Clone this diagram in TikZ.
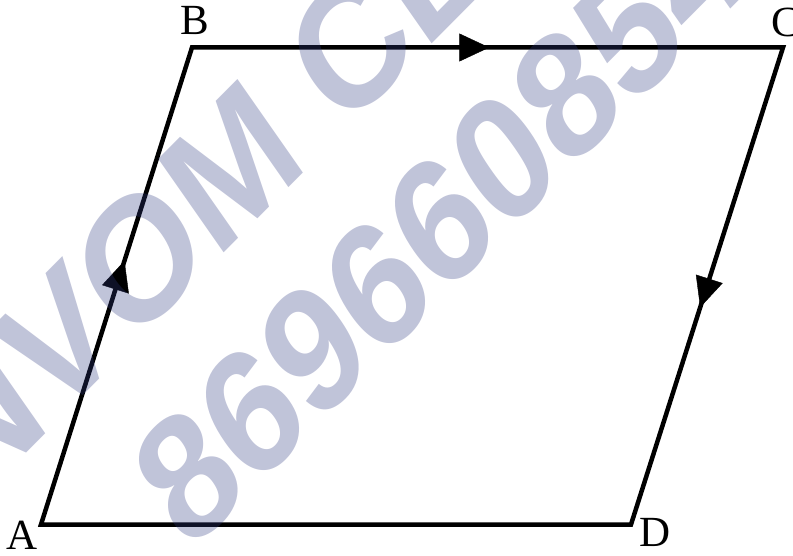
\documentclass[tikz,border=0pt]{standalone}
\usepackage{fontspec}
\setmainfont{Liberation Serif}
\newfontfamily\wmfont{Liberation Sans}
\usetikzlibrary{arrows.meta,decorations.markings}
\definecolor{wmcol}{RGB}{48,58,128}
\begin{document}
\begin{tikzpicture}[x=1pt,y=-1pt,
  side/.style={line width=4.5pt, line join=miter},
  lbl/.style={font=\fontsize{43}{43}\selectfont, inner sep=0pt},
  wm/.style={font=\wmfont\bfseries\fontsize{148}{148}\selectfont, text=wmcol, text opacity=0.3, rotate=40, transform shape, inner sep=0pt},
  midarrow/.style={postaction={decorate}, decoration={markings, mark=at position #1 with {\arrow{Triangle[length=30pt,width=28pt]}}}}]
\useasboundingbox (0,0) rectangle (793,556);
\coordinate (A) at (41,524.5);
\coordinate (B) at (192,47.5);
\coordinate (C) at (783,47.5);
\coordinate (D) at (631,524.5);
\draw[side] (A) -- (B) -- (C) -- (D) -- cycle;
\path[midarrow=0.553] (A) -- (B);
\path[midarrow=0.503] (B) -- (C);
\path[midarrow=0.545] (C) -- (D);
\node[lbl] (lB) at (195,20) {B};
\node[lbl] (lC) at (786,22) {C};
\node[lbl] (lA) at (22,535) {A};
\node[lbl] (lD) at (655,532) {D};
\begin{scope}
  \clip (0,0) rectangle (793,556);
  \begin{scope}[shift={(203,195)}, yscale=1.2]
    \node[wm] (wm1) at (0,0) {NVOM CE};
  \end{scope}
  \begin{scope}[shift={(440,222)}, yscale=1.2]
    \node[wm] (wm2) at (0,0) {869660854};
  \end{scope}
\end{scope}
\end{tikzpicture}
\end{document}
